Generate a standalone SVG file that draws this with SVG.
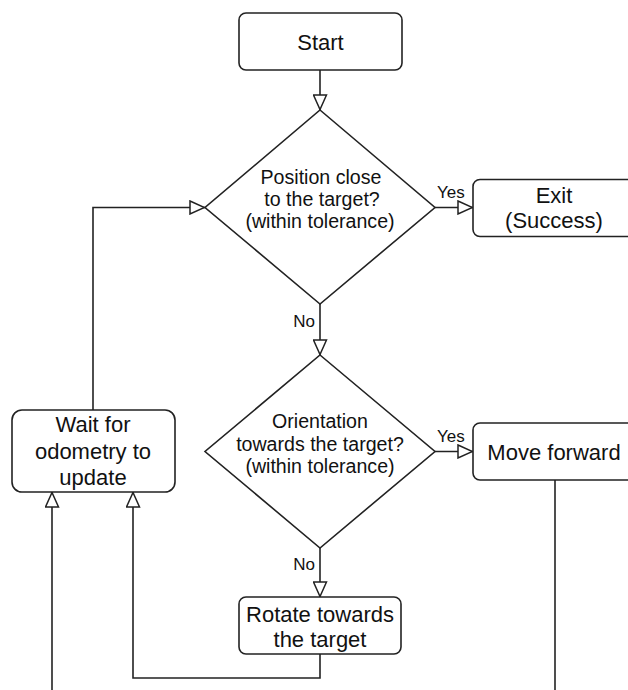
<svg xmlns="http://www.w3.org/2000/svg" width="628" height="690" viewBox="0 0 628 690">
  <style>
    .box { fill: #ffffff; stroke: #222222; stroke-width: 1.6; }
    .edge { fill: none; stroke: #222222; stroke-width: 1.6; }
    .t { font-family: "Liberation Sans", Arial, sans-serif; fill: #111111; text-anchor: middle; }
    .node { font-size: 22px; }
    .cond { font-size: 19.6px; }
    .lbl { font-family: "Liberation Sans", Arial, sans-serif; fill: #111111; font-size: 17px; }
  </style>
  <defs>
    <marker id="open-tri" viewBox="0 0 16 15" refX="16" refY="7.5" markerWidth="16" markerHeight="15" markerUnits="userSpaceOnUse" orient="auto">
      <path d="M1,1 L15.5,7.5 L1,14 Z" fill="#ffffff" stroke="#222222" stroke-width="1.5"/>
    </marker>
  </defs>
  <rect width="628" height="690" fill="#ffffff"/>

  <!-- connectors -->
  <g id="connectors">
    <path class="edge" d="M320,70 V110" marker-end="url(#open-tri)"/>
    <path class="edge" d="M435,207.5 H473" marker-end="url(#open-tri)"/>
    <path class="edge" d="M320,304 V355" marker-end="url(#open-tri)"/>
    <path class="edge" d="M435,451.5 H473" marker-end="url(#open-tri)"/>
    <path class="edge" d="M320,548 V597" marker-end="url(#open-tri)"/>
    <path class="edge" d="M93,410 V207.5 H205" marker-end="url(#open-tri)"/>
    <path class="edge" d="M320,654 V678 H133 V492" marker-end="url(#open-tri)"/>
    <path class="edge" d="M52,700 V492" marker-end="url(#open-tri)"/>
    <path class="edge" d="M555,480 V700"/>
    <text class="lbl" x="437" y="198">Yes</text>
    <text class="lbl" x="437" y="442">Yes</text>
    <text class="lbl" x="315" y="327" text-anchor="end">No</text>
    <text class="lbl" x="315" y="570" text-anchor="end">No</text>
  </g>

  <g id="start">
    <rect class="box" x="239" y="13" width="163" height="57" rx="7"/>
    <text class="t node" x="320.5" y="50">Start</text>
  </g>

  <g id="check-position">
    <polygon class="box" points="320,110 435,207.5 320,304 205,207.5"/>
    <text class="t cond" x="321" y="184">Position close</text>
    <text class="t cond" x="322" y="206">to the target?</text>
    <text class="t cond" x="320" y="228">(within tolerance)</text>
  </g>

  <g id="exit">
    <rect class="box" x="473" y="179.5" width="162" height="57" rx="7"/>
    <text class="t node" x="554" y="203">Exit</text>
    <text class="t node" x="554" y="228">(Success)</text>
  </g>

  <g id="check-orientation">
    <polygon class="box" points="320,355 435,451.5 320,548 205,451.5"/>
    <text class="t cond" x="320" y="428">Orientation</text>
    <text class="t cond" x="320" y="451">towards the target?</text>
    <text class="t cond" x="320" y="473">(within tolerance)</text>
  </g>

  <g id="move-forward">
    <rect class="box" x="473" y="423" width="162" height="57" rx="7"/>
    <text class="t node" x="554" y="460">Move forward</text>
  </g>

  <g id="wait-odometry">
    <rect class="box" x="12" y="410" width="163" height="82" rx="10"/>
    <text class="t node" x="93" y="432">Wait for</text>
    <text class="t node" x="93" y="459">odometry to</text>
    <text class="t node" x="93" y="485">update</text>
  </g>

  <g id="rotate">
    <rect class="box" x="239" y="597" width="162" height="57" rx="7"/>
    <text class="t node" x="320" y="622">Rotate towards</text>
    <text class="t node" x="320" y="647">the target</text>
  </g>
</svg>
